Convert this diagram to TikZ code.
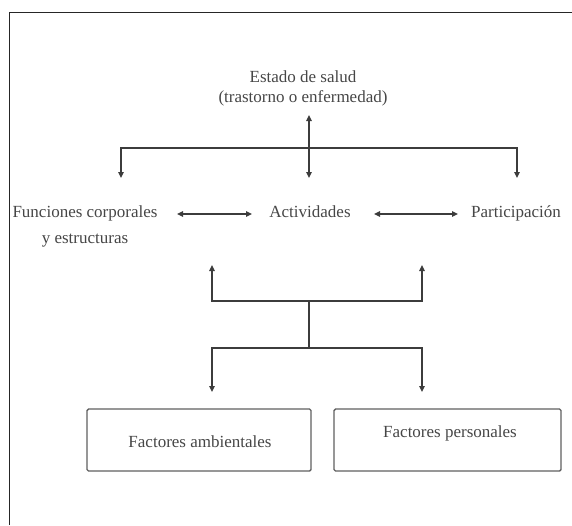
\documentclass[tikz,border=0pt]{standalone}
\usepackage{fontspec}
\setmainfont{Liberation Serif}
\usetikzlibrary{arrows.meta}
\definecolor{inkline}{RGB}{60,60,60}
\definecolor{inktext}{RGB}{70,70,70}
\definecolor{boxline}{RGB}{95,95,95}
\tikzset{
  lbl/.style={inner sep=0pt, text=inktext, font=\fontsize{17}{20}\selectfont, align=center},
  conn/.style={draw=inkline, line width=1.3pt},
  arr/.style={conn, -{Triangle[length=6pt,width=5.5pt]}},
  dbl/.style={conn, {Triangle[length=6pt,width=5.5pt]}-{Triangle[length=6pt,width=5.5pt]}},
  factorbox/.style={draw=boxline, line width=1.4pt, rounded corners=1.5pt,
    minimum width=224pt, minimum height=62pt, inner sep=0pt}
}
\begin{document}
\begin{tikzpicture}[x=1pt,y=-1pt]
\useasboundingbox (0,0) rectangle (572,525);
% page frame (left and top edges)
\draw[line width=1pt, draw=black!85] (9,525) -- (9,12) -- (572,12);

% labels (base anchor sits on the last line of a multi-line label)
\node[lbl, anchor=base] (estado) at (303,102) {Estado de salud\\(trastorno o enfermedad)};
\node[lbl, anchor=base] (funciones) at (85,243) {Funciones corporales\\[6pt]y estructuras};
\node[lbl, anchor=base] (actividades) at (310,217) {Actividades};
\node[lbl, anchor=base] (participacion) at (516,217) {Participación};

% factor boxes
\node[factorbox] (ambientales) at (199,440) {};
\node[lbl, anchor=base] (ambText) at (200,447) {Factores ambientales};
\node[factorbox, minimum width=227pt] (personales) at (447.5,440) {};
\node[lbl, anchor=base] (perText) at (450,437) {Factores personales};

% junction points
\coordinate (estTip) at (309,115);
\coordinate (topHub) at (309,148);
\coordinate (actTop) at (309,178);
\coordinate (topL) at (121,148);
\coordinate (topR) at (517,148);
\coordinate (funTop) at (121,178);
\coordinate (parTop) at (517,178);

\coordinate (fnR) at (177,214);
\coordinate (acL) at (252,214);
\coordinate (acR) at (374,214);
\coordinate (paL) at (458,214);

\coordinate (upL) at (212,265);
\coordinate (upR) at (422,265);
\coordinate (midL) at (212,301);
\coordinate (midR) at (422,301);
\coordinate (midHub) at (309,301);
\coordinate (lowHub) at (309,348);
\coordinate (lowL) at (212,348);
\coordinate (lowR) at (422,348);
\coordinate (ambTip) at (212,392);
\coordinate (perTip) at (422,392);

% health condition to the three components
\draw[dbl] (estTip) -- (actTop);
\draw[arr] (topHub) -- (topL) -- (funTop);
\draw[arr] (topHub) -- (topR) -- (parTop);

% interactions among the components
\draw[dbl] (fnR) -- (acL);
\draw[dbl] (acR) -- (paL);

% contextual factors
\draw[arr] (midHub) -- (midL) -- (upL);
\draw[arr] (midHub) -- (midR) -- (upR);
\draw[conn] (midHub) -- (lowHub);
\draw[arr] (lowHub) -- (lowL) -- (ambTip);
\draw[arr] (lowHub) -- (lowR) -- (perTip);
\end{tikzpicture}
\end{document}
